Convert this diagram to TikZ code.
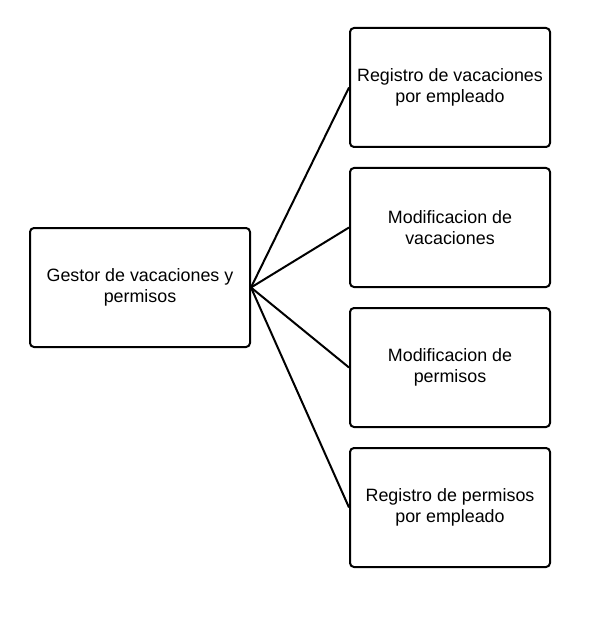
\documentclass[tikz,border=0pt]{standalone}
\usepackage{fontspec}
\setmainfont{Liberation Sans}
\begin{document}
\begin{tikzpicture}[x=0.75pt,y=-0.75pt,
  box/.style={draw,line width=1.5pt,rounded corners=3pt,align=center,
    minimum height=89.25pt,font=\fontsize{13.4pt}{16.2pt}\selectfont}]

  \useasboundingbox (0,0) rectangle (596,620);

  \draw (140,287.5) node[box,minimum width=165pt] (gestor) {Gestor de vacaciones y\\permisos};
\draw (450,87.5) node[box,minimum width=150pt] (regvac) {Registro de vacaciones\\por empleado};
\draw (450,227.5) node[box,minimum width=150pt] (modvac) {Modificacion de\\vacaciones};
\draw (450,367.5) node[box,minimum width=150pt] (modper) {Modificacion de\\permisos};
\draw (450,507.5) node[box,minimum width=150pt] (regper) {Registro de permisos\\por empleado};

  \draw[line width=1.5pt] (gestor.east) -- (regvac.west);
  \draw[line width=1.5pt] (gestor.east) -- (modvac.west);
  \draw[line width=1.5pt] (gestor.east) -- (modper.west);
  \draw[line width=1.5pt] (gestor.east) -- (regper.west);

\end{tikzpicture}
\end{document}
